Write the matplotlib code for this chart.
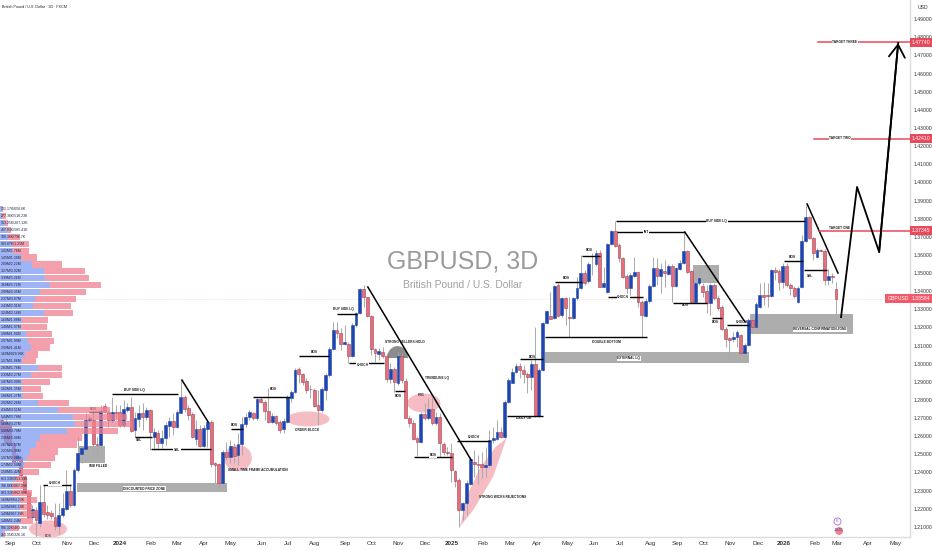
# GBPUSD 3D chart with smart money markup
import numpy as np
import matplotlib
matplotlib.use("Agg")
import matplotlib.pyplot as plt
from matplotlib.patches import Ellipse, Polygon, Rectangle

plt.rcParams['font.family'] = ['Liberation Sans', 'DejaVu Sans']

# candles, one per 3D bar
opens = [
    1.2689,1.2680,1.2661,1.2560,1.2468,1.2487,1.2376,1.2293,1.2155,1.2192,
    1.2122,1.2238,1.2183,1.2179,1.2155,1.2104,1.2165,1.2198,1.2299,1.2220,
    1.2413,1.2501,1.2529,1.2689,1.2689,1.2557,1.2551,1.2766,1.2731,1.2689,
    1.2735,1.2731,1.2661,1.2744,1.2759,1.2634,1.2695,1.2726,1.2707,1.2744,
    1.2597,1.2615,1.2564,1.2588,1.2656,1.2685,1.2649,1.2729,1.2814,1.2753,
    1.2720,1.2582,1.2639,1.2545,1.2639,1.2676,1.2450,1.2444,1.2343,1.2514,
    1.2487,1.2538,1.2496,
    1.2557,1.2667,1.2704,1.2726,1.2698,1.2805,1.2790,1.2741,1.2676,1.2713,
    1.2680,1.2637,1.2680,1.2812,1.2845,1.2969,1.2943,1.2904,1.2862,1.2855,
    1.2772,1.2744,1.2855,1.2936,1.3083,1.3184,1.3167,1.3109,1.3109,1.3042,
    1.3213,1.3278,1.3412,1.3366,1.3265,1.3079,1.3053,1.3066,1.3042,1.2915,
    1.2969,1.2891,1.3042,1.2904,1.2702,1.2674,1.2588,1.2566,1.2722,1.2698,
    1.2748,1.2671,1.2707,1.2557,1.2514,1.2505,1.2407,1.2358,1.2192,1.2229,
    1.2339,1.2459,1.2446,1.2444,1.2428,1.2441,1.2579,1.2584,1.2621,1.2597,
    1.2790,1.2895,1.2956,
    1.2989,1.2965,1.2941,1.2928,1.2996,1.2711,1.2965,1.3226,1.3263,1.3250,
    1.3432,1.3268,1.3360,1.3257,1.3250,1.3360,1.3415,1.3502,1.3458,1.3596,
    1.3548,1.3612,1.3425,1.3397,1.3660,1.3732,1.3655,1.3581,1.3483,1.3419,
    1.3485,1.3504,1.3342,1.3264,1.3345,1.3430,1.3526,1.3485,1.3511,1.3494,
    1.3540,1.3430,1.3522,1.3553,1.3623,1.3511,1.3342,1.3443,1.3430,1.3401,
    1.3333,1.3434,1.3364,1.3314,1.3191,1.3139,1.3134,1.3145,1.3158,1.3057,
    1.3103,1.3241,1.3204,1.3311,1.3379,
    1.3378,1.3375,1.3516,1.3513,1.3452,1.3540,1.3433,1.3420,1.3341,1.3424,
    1.3676,1.3811,1.3691,1.3586,1.3628,1.3623,1.3461,1.3483,1.3411,
]
closes = [
    1.2615,1.2569,1.2551,1.2459,1.2496,1.2385,1.2293,1.2155,1.2196,1.2137,
    1.2238,1.2170,1.2165,1.2161,1.2106,1.2168,1.2205,1.2299,1.2220,1.2413,
    1.2505,1.2533,1.2689,1.2698,1.2557,1.2551,1.2741,1.2731,1.2689,1.2731,
    1.2726,1.2661,1.2748,1.2759,1.2628,1.2698,1.2726,1.2707,1.2744,1.2625,
    1.2625,1.2564,1.2591,1.2661,1.2685,1.2649,1.2731,1.2814,1.2748,1.2717,
    1.2597,1.2639,1.2545,1.2643,1.2676,1.2444,1.2441,1.2343,1.2514,1.2483,
    1.2545,1.2490,1.2557,
    1.2667,1.2707,1.2731,1.2698,1.2805,1.2787,1.2737,1.2680,1.2713,1.2674,
    1.2634,1.2683,1.2814,1.2845,1.2965,1.2941,1.2901,1.2855,1.2858,1.2768,
    1.2744,1.2858,1.2937,1.3083,1.3184,1.3167,1.3109,1.3118,1.3042,1.3213,
    1.3278,1.3412,1.3366,1.3265,1.3079,1.3057,1.3072,1.3042,1.2915,1.2969,
    1.2897,1.3042,1.2910,1.2702,1.2674,1.2584,1.2566,1.2722,1.2698,1.2748,
    1.2671,1.2707,1.2560,1.2514,1.2505,1.2413,1.2354,1.2192,1.2229,1.2343,
    1.2474,1.2446,1.2441,1.2428,1.2441,1.2579,1.2588,1.2621,1.2597,1.2790,
    1.2910,1.2956,1.2987,
    1.2965,1.2941,1.2928,1.2996,1.2711,1.2965,1.3226,1.3290,1.3248,1.3428,
    1.3265,1.3360,1.3305,1.3253,1.3360,1.3419,1.3502,1.3443,1.3550,1.3592,
    1.3612,1.3425,1.3447,1.3660,1.3732,1.3651,1.3581,1.3480,1.3419,1.3489,
    1.3504,1.3342,1.3268,1.3345,1.3430,1.3526,1.3485,1.3520,1.3498,1.3540,
    1.3430,1.3526,1.3553,1.3623,1.3507,1.3342,1.3443,1.3471,1.3397,1.3333,
    1.3434,1.3364,1.3309,1.3191,1.3136,1.3130,1.3149,1.3173,1.3057,1.3103,
    1.3241,1.3204,1.3329,1.3379,1.3369,
    1.3371,1.3516,1.3507,1.3452,1.3540,1.3433,1.3420,1.3375,1.3420,1.3676,
    1.3811,1.3691,1.3608,1.3627,1.3623,1.3461,1.3483,1.3479,1.3356,
]
highs = [
    1.2707,1.2700,1.2680,1.2575,1.2505,1.2495,1.2385,1.2303,1.2220,1.2211,
    1.2330,1.2330,1.2220,1.2192,1.2229,1.2229,1.2284,1.2413,1.2339,1.2422,
    1.2597,1.2546,1.2726,1.2717,1.2744,1.2597,1.2772,1.2781,1.2744,1.2818,
    1.2772,1.2772,1.2799,1.2781,1.2818,1.2735,1.2772,1.2781,1.2763,1.2748,
    1.2643,1.2634,1.2634,1.2680,1.2707,1.2726,1.2744,1.2910,1.2827,1.2772,
    1.2735,1.2689,1.2661,1.2661,1.2689,1.2689,1.2459,1.2450,1.2523,1.2569,
    1.2579,1.2560,1.2615,
    1.2707,1.2726,1.2744,1.2735,1.2809,1.2818,1.2799,1.2864,1.2726,1.2717,
    1.2689,1.2698,1.2827,1.2855,1.2974,1.2983,1.2950,1.2919,1.2882,1.2864,
    1.2855,1.2873,1.2947,1.3094,1.3232,1.3232,1.3195,1.3213,1.3121,1.3223,
    1.3287,1.3416,1.3434,1.3370,1.3269,1.3085,1.3085,1.3094,1.3057,1.3002,
    1.2983,1.3066,1.3057,1.2919,1.2717,1.2689,1.2597,1.2735,1.2781,1.2809,
    1.2809,1.2735,1.2726,1.2569,1.2542,1.2560,1.2413,1.2367,1.2238,1.2358,
    1.2487,1.2523,1.2496,1.2514,1.2542,1.2634,1.2652,1.2689,1.2652,1.2799,
    1.2919,1.2974,1.3002,
    1.3001,1.2992,1.2955,1.3020,1.3204,1.2974,1.3231,1.3296,1.3397,1.3434,
    1.3443,1.3369,1.3369,1.3369,1.3369,1.3480,1.3599,1.3517,1.3563,1.3609,
    1.3627,1.3627,1.3535,1.3667,1.3737,1.3789,1.3664,1.3590,1.3494,1.3498,
    1.3587,1.3513,1.3351,1.3360,1.3439,1.3590,1.3581,1.3553,1.3572,1.3548,
    1.3550,1.3535,1.3572,1.3719,1.3627,1.3517,1.3452,1.3535,1.3443,1.3434,
    1.3443,1.3443,1.3379,1.3323,1.3200,1.3145,1.3176,1.3185,1.3163,1.3112,
    1.3250,1.3268,1.3342,1.3443,1.3452,
    1.3443,1.3525,1.3535,1.3525,1.3553,1.3553,1.3443,1.3428,1.3428,1.3709,
    1.3875,1.3814,1.3697,1.3636,1.3632,1.3630,1.3525,1.3498,1.3452,
]
lows = [
    1.2606,1.2560,1.2540,1.2450,1.2440,1.2375,1.2285,1.2146,1.2146,1.2045,
    1.2100,1.2155,1.2146,1.2146,1.2082,1.2063,1.2155,1.2192,1.2211,1.2216,
    1.2404,1.2450,1.2523,1.2680,1.2505,1.2496,1.2505,1.2726,1.2652,1.2680,
    1.2689,1.2652,1.2652,1.2735,1.2625,1.2597,1.2652,1.2634,1.2689,1.2523,
    1.2523,1.2533,1.2533,1.2551,1.2597,1.2606,1.2643,1.2726,1.2735,1.2689,
    1.2588,1.2551,1.2538,1.2538,1.2542,1.2431,1.2339,1.2303,1.2330,1.2468,
    1.2450,1.2450,1.2441,
    1.2496,1.2652,1.2689,1.2689,1.2689,1.2781,1.2689,1.2671,1.2671,1.2661,
    1.2615,1.2615,1.2671,1.2790,1.2840,1.2891,1.2882,1.2840,1.2809,1.2763,
    1.2661,1.2735,1.2799,1.2928,1.3075,1.3140,1.3075,1.3103,1.3002,1.3035,
    1.3204,1.3274,1.3315,1.3259,1.3048,1.3011,1.3020,1.3029,1.2901,1.2891,
    1.2845,1.2882,1.2891,1.2698,1.2652,1.2579,1.2490,1.2560,1.2689,1.2689,
    1.2661,1.2661,1.2487,1.2496,1.2496,1.2349,1.2321,1.2100,1.2137,1.2165,
    1.2330,1.2376,1.2339,1.2367,1.2376,1.2431,1.2560,1.2579,1.2588,1.2588,
    1.2785,1.2891,1.2947,
    1.2919,1.2891,1.2836,1.2854,1.2707,1.2707,1.2961,1.3222,1.3244,1.3244,
    1.3259,1.3259,1.3213,1.3149,1.3244,1.3351,1.3410,1.3434,1.3443,1.3489,
    1.3541,1.3421,1.3421,1.3391,1.3655,1.3645,1.3563,1.3471,1.3379,1.3379,
    1.3480,1.3311,1.3149,1.3259,1.3336,1.3425,1.3434,1.3388,1.3421,1.3489,
    1.3342,1.3421,1.3517,1.3548,1.3502,1.3333,1.3336,1.3434,1.3369,1.3277,
    1.3268,1.3351,1.3296,1.3185,1.3093,1.3011,1.3121,1.3093,1.3047,1.3038,
    1.3097,1.3167,1.3200,1.3305,1.3323,
    1.3314,1.3369,1.3461,1.3406,1.3415,1.3424,1.3378,1.3360,1.3336,1.3420,
    1.3673,1.3686,1.3571,1.3581,1.3617,1.3433,1.3433,1.3443,1.3255,
]

# volume profile rows, top row first
buy_vol = [2,2,5,7,8,12,13,21,32,44,45,50,40,35,33,44,22,21,26,28,31,25,22,38,
           31,22,22,23,38,58,73,75,67,40,36,30,27,24,20,15,12,12,20,20,20,20,10,3]
sell_vol = [1,4,3,4,12,17,16,16,30,41,44,51,46,41,38,29,26,26,26,26,19,13,14,24,
            31,28,19,20,31,52,54,57,51,42,41,28,28,27,19,12,15,20,17,12,15,13,9,2]
vol_labels = ["131.17K/658.6K","277.36K/518.23K","353.25K/287.12K","497.83K/585.41K",
              "708.36K/796.7K","893.87K/1.25M","1.02M/1.76M","1.45M/1.26M","2.09M/2.22M",
              "3.27M/3.02M","3.39M/3.26M","3.69M/3.72M","2.89M/3.35M","2.37M/3.07M",
              "2.43M/2.91M","3.24M/2.16M","1.60M/1.88M","1.48M/1.97M","1.90M/1.94M",
              "2.07M/1.89M","2.09M/1.41M","1.60M/829.98K","1.57M/1.06M","2.83M/1.76M",
              "2.33M/2.27M","1.97M/2.09M","1.62M/1.35M","1.86M/1.27M","2.82M/2.26M",
              "4.34M/3.51M","5.44M/3.78M","5.60M/4.27M","5.08M/3.78M","2.95M/3.08M",
              "2.67M/2.57M","2.21M/1.98M","1.97M/2.08M","1.74M/2.00M","1.50M/1.42M",
              "813.33K/853.33K","786.86K/867.39K","883.32K/862.99K","1.60M/884.23K",
              "1.20M/881.18K","1.49M/967.38K","1.48M/1.24M","506.32K/483.26K","263.35K/326.1K"]

# axis labels
month_pos = [2.2,9.3,17.1,24.2,31.0,39.2,46.0,53.1,60.2,68.3,75.2,82.2,90.1,97.2,104.0,111.1,
             118.2,126.3,133.4,140.5,148.4,155.5,162.3,170.2,177.3,184.3,191.2,198.5,205.3,
             213.5,219.2,227.4,234.5]
month_names = ["Sep","Oct","Nov","Dec","2024","Feb","Mar","Apr","May","Jun","Jul","Aug","Sep",
               "Oct","Nov","Dec","2025","Feb","Mar","Apr","May","Jun","Jul","Aug","Sep","Oct",
               "Nov","Dec","2026","Feb","Mar","Apr","May"]
price_ticks = [1.21,1.22,1.23,1.24,1.25,1.26,1.27,1.28,1.29,1.30,1.31,1.32,1.33,1.34,1.35,
               1.36,1.37,1.38,1.39,1.40,1.41,1.42,1.43,1.44,1.45,1.46,1.47,1.48,1.49]

# markup: (start bar, end bar, price)
levels = [(10.8,18.2,1.2331),(29.0,46.3,1.2833),(22.9,25.8,1.2733),(35.0,39.4,1.2596),
          (39.2,54.9,1.2529),(60.2,63.3,1.2640),(66.0,75.7,1.2816),(78.0,85.9,1.3042),
          (88.0,93.3,1.3274),(91.2,100.3,1.3004),(103.2,105.9,1.2849),(108.2,118.2,1.2485),
          (119.5,128.2,1.2573),(132.6,142.1,1.2711),(136.0,142.1,1.3026),(145.2,152.3,1.3450),
          (152.3,157.0,1.3594),(161.2,210.8,1.3787),(161.5,179.3,1.3726),(142.6,169.4,1.3147),
          (159.1,168.3,1.3368),(176.2,185.1,1.3335),(186.4,189.1,1.3252),(190.4,196.1,1.3213),
          (205.3,210.3,1.3566),(210.6,216.6,1.3517)]
trendlines = [(47.3,1.2910,54.2,1.2678),(96.1,1.3423,123.2,1.2469),
              (179.3,1.3726,195.1,1.3230),(211.4,1.3881,219.5,1.3500)]
zones = [(20.3,27.1,1.2452,1.2546),(19.8,59.1,1.2292,1.2342),(181.4,188.3,1.3445,1.3544),
         (142.6,196.1,1.3004,1.3064),(196.4,223.4,1.3164,1.3274)]
blobs = [(12.15,1.2088,10.0,0.0094),(62.0,1.2480,7.3,0.0143),
         (80.4,1.2695,11.3,0.0083),(110.8,1.2783,8.7,0.0105)]
wick_leaf = [(120.3,1.2101),(123.8,1.2193),(129.0,1.2377),(132.5,1.2588),
             (129.7,1.2542),(125.5,1.2423),(122.0,1.2266)]
path_x = [220.3,224.5,230.3]
path_y = [1.3257,1.3975,1.3616]
arrow_tip = (235.3,1.4769)
targets = [(214.5,1.37345,"1.37345"),(213.2,1.42410,"1.42410"),(214.2,1.47740,"1.47740")]
last_price = 1.33584

notes = [("CHOCH",14.0,1.2342,1),("BUY SIDE LQ",34.7,1.2855,0),("BOS",24.0,1.2750,0),
         ("SSL",36.0,1.2579,0),("SSL",46.0,1.2524,1),("IMB FILLED",25.3,1.2436,0),
         ("DISCOUNTED PRICE ZONE",37.4,1.2309,1),("BOS",61.0,1.2662,0),
         ("SMALL TIME FRAME ACCUMULATION",67.3,1.2413,0),("BOS",71.2,1.2860,0),
         ("ORDER BLOCK",80.1,1.2634,0),("BOS",82.0,1.3064,0),("BUY SIDE LQ",89.6,1.3302,0),
         ("CHOCH",94.8,1.2993,1),("STRONG SELLERS HOLD",105.9,1.3120,0),("BOS",104.0,1.2822,0),
         ("TRENDLINE LQ",114.3,1.2921,0),("FVG",110.0,1.2827,0),("BOS",113.2,1.2496,1),
         ("CHOCH",124.0,1.2595,0),("STRONG WICKS REJECTIONS",131.6,1.2265,0),
         ("DAILY OB",137.1,1.2700,0),("BOS",139.2,1.3037,0),("BOS",148.1,1.3473,0),
         ("BOS",154.2,1.3627,0),("BUY SIDE LQ",187.7,1.3787,1),("INT",169.1,1.3726,1),
         ("DOUBLE BOTTOM",158.6,1.3120,0),("EXTERNAL LQ",164.6,1.3030,1),("CHOCH",163.1,1.3368,1),
         ("BOS",179.4,1.3324,0),("BOS",187.2,1.3230,0),("CHOCH",194.3,1.3230,0),
         ("BOS",207.4,1.3588,0),("SSL",212.2,1.3484,0),
         ("REVERSAL CONFIRMATION ZONE",214.8,1.3191,1),("TARGET ONE",220.0,1.3748,0),
         ("TARGET TWO",220.0,1.4245,1),("TARGET THREE",221.3,1.4775,1)]

BLUE = "#1f46b0"
RED = "#e2707f"
RED_LINE = "#e8495c"
GREY = "#adadad"
AXIS_GREY = "#dcdcdc"
TEXT = "#333333"

fig = plt.figure(figsize=(9.32, 5.5), dpi=100)
ax = fig.add_axes([0, 13/550, 910/932, 537/550])
ax.set_xlim(-0.446, 238.4)
ax.set_ylim(1.2044, 1.5006)

# zones and blobs under the candles
for x0, x1, y0, y1 in zones:
    ax.add_patch(Rectangle((x0, y0), x1-x0, y1-y0, color=GREY, lw=0, zorder=1))
for cx, cy, w, h in blobs:
    ax.add_patch(Ellipse((cx, cy), w, h, color="#f6bcc3", lw=0, zorder=1))
ax.add_patch(Polygon(wick_leaf, closed=True, color="#f6bcc3", lw=0, zorder=1))
t = np.linspace(0, np.pi, 40)
ax.fill(103.9+2.75*np.cos(t), 1.3031+0.0066*np.sin(t), color="#8c8c8c", lw=0, zorder=1)

# last price line
ax.axhline(last_price, color="#fbd9dd", lw=0.6, ls=(0, (1, 1)), zorder=1)

# candles
x = np.arange(len(opens))
opens = np.array(opens)
closes = np.array(closes)
up = closes >= opens
ax.vlines(x, lows, highs, color="#a9a9a9", lw=0.7, zorder=2)
bottoms = np.minimum(opens, closes)
heights = np.abs(closes-opens)
ax.bar(x[up], heights[up], 0.74, bottoms[up], color=BLUE, edgecolor=BLUE, lw=0.4, zorder=3)
ax.bar(x[~up], heights[~up], 0.74, bottoms[~up], color=RED, edgecolor="#a8404e", lw=0.4, zorder=3)

# markup lines
for x0, x1, y in levels:
    ax.plot([x0, x1], [y, y], color="black", lw=1.0, solid_capstyle="butt", zorder=4)
for x0, y0, x1, y1 in trendlines:
    ax.plot([x0, x1], [y0, y1], color="black", lw=1.1, zorder=4)
ax.plot(path_x+[arrow_tip[0]], path_y+[arrow_tip[1]], color="black", lw=1.3, zorder=5)
ax.annotate("", xy=arrow_tip, xytext=(path_x[-1], path_y[-1]),
            arrowprops=dict(arrowstyle="->,head_length=0.5,head_width=0.32", color="black", lw=1.3,
                            mutation_scale=18, shrinkA=0, shrinkB=0), zorder=5)

# targets
for x0, y, lab in targets:
    ax.plot([x0, 238.4], [y, y], color=RED_LINE, lw=1.1, zorder=4)
    ax.text(1.002, y, lab, transform=ax.get_yaxis_transform(), color="white", fontsize=3.7,
            va="center", ha="left", clip_on=False, zorder=6,
            bbox=dict(facecolor=RED_LINE, edgecolor="none", pad=1.4))
ax.text(1.002, last_price, "1.33584", transform=ax.get_yaxis_transform(), color="white",
        fontsize=3.7, va="center", ha="left", clip_on=False, zorder=6,
        bbox=dict(facecolor="#f2596b", edgecolor="none", pad=1.4))
ax.text(0.9985, last_price, "GBPUSD", transform=ax.get_yaxis_transform(), color="white",
        fontsize=3.7, va="center", ha="right", zorder=6,
        bbox=dict(facecolor="#f2596b", edgecolor="none", pad=1.4))
ax.text(1.008, 1.4967, "USD", transform=ax.get_yaxis_transform(), color=TEXT, fontsize=3.7,
        va="center", ha="left", clip_on=False)

# small labels
for lab, lx, ly, boxed in notes:
    box = dict(facecolor="white", edgecolor="none", pad=0.4) if boxed else None
    ax.text(lx, ly, lab, fontsize=2.3, color="#1a1a1a", ha="center", va="center",
            fontweight="bold", zorder=6, bbox=box)
ax.text(12.2, 1.2050, "BOS", fontsize=2.3, color="#1a1a1a", ha="center", va="center", zorder=6)

# watermark
ax.text(121.1, 1.3561, "GBPUSD, 3D", fontsize=18, color="#9a9a9a", ha="center", va="center", zorder=2)
ax.text(121.1, 1.3434, "British Pound / U.S. Dollar", fontsize=7.4, color="#a0a0a0",
        ha="center", va="center", zorder=2)
ax.text(0.002, 0.987, "British Pound / U.S. Dollar · 3D · FXCM", transform=ax.transAxes,
        fontsize=2.7, color="#222222", va="center", ha="left")

# event icons near the bottom
ax.scatter([219.3], [1.2134], s=26, facecolor="white", edgecolor="#b57be0", lw=0.7, zorder=6)
ax.text(219.3, 1.2134, "E", fontsize=2.8, color="#8a4fc0", ha="center", va="center", zorder=7)
ax.scatter([219.8], [1.2077], s=32, facecolor="#f0808c", edgecolor="none", zorder=6)
ax.text(219.8, 1.2081, "JEIJC", fontsize=2.6, color=BLUE, ha="center", va="center", zorder=7)

# axes
ax.set_xticks(month_pos)
ax.set_xticklabels(month_names, fontsize=4.6, color=TEXT)
for lab in ax.get_xticklabels():
    if lab.get_text().startswith("20"):
        lab.set_fontweight("bold")
ax.set_yticks(price_ticks)
ax.set_yticklabels(["%.5f" % p for p in price_ticks], fontsize=3.7, color=TEXT)
ax.yaxis.tick_right()
ax.tick_params(axis="y", length=0, pad=2.5)
ax.tick_params(axis="x", length=0, pad=3)
for side in ["top", "left"]:
    ax.spines[side].set_visible(False)
for side in ["right", "bottom"]:
    ax.spines[side].set_color(AXIS_GREY)
    ax.spines[side].set_linewidth(1.0)

# volume profile drawn over the candles, its own x scale
ax_vol = ax.twiny()
ax_vol.set_xlim(0, 910)
ax_vol.axis("off")
rows = 1.3853 - 0.00382*np.arange(len(buy_vol))
ax_vol.barh(rows, buy_vol, 0.0034, color="#7f9bf2", alpha=0.75, lw=0)
ax_vol.barh(rows, sell_vol, 0.0034, left=buy_vol, color="#f08190", alpha=0.75, lw=0)
for r, lab in zip(rows, vol_labels):
    ax_vol.text(1, r, lab, fontsize=2.5, color="#1b2340", va="center", ha="left")

fig.savefig("out.png", dpi=100)
